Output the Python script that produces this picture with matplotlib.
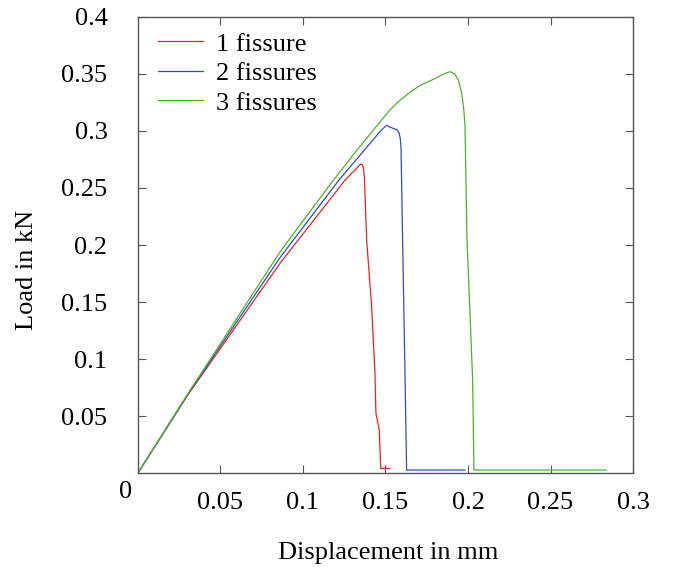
import numpy as np
import matplotlib.pyplot as plt

plt.rcParams['font.family'] = ['Liberation Serif', 'DejaVu Serif']

# 1 fissure
x1 = [0, 0.03, 0.06, 0.0861, 0.1164, 0.1255, 0.1320, 0.1345, 0.1356, 0.1365,
      0.1372, 0.1386, 0.1416, 0.1436, 0.1442, 0.1462, 0.1471, 0.1480, 0.1527]
y1 = [0, 0.068, 0.130, 0.184, 0.240, 0.257, 0.2665, 0.2705, 0.271, 0.2685,
      0.260, 0.204, 0.146, 0.088, 0.0526, 0.0377, 0.0041, 0.0041, 0.0041]
# 2 fissures
x2 = [0, 0.03, 0.0861, 0.1218, 0.1400, 0.1470, 0.1495, 0.1507, 0.1525, 0.1547,
      0.1570, 0.1582, 0.1590, 0.1594, 0.1618, 0.1628, 0.1982]
y2 = [0, 0.0685, 0.189, 0.257, 0.288, 0.300, 0.3035, 0.305, 0.3035, 0.3023,
      0.301, 0.2985, 0.293, 0.285, 0.088, 0.0026, 0.0026]
# 3 fissures
x3 = [0, 0.03, 0.0861, 0.1164, 0.1320, 0.1467, 0.1530, 0.1588, 0.1650, 0.1709,
      0.1800, 0.1860, 0.1891, 0.1920, 0.1941, 0.1962, 0.1975, 0.1982, 0.1994,
      0.2028, 0.2036, 0.2836]
y3 = [0, 0.069, 0.194, 0.253, 0.282, 0.308, 0.319, 0.327, 0.334, 0.340,
      0.346, 0.3505, 0.352, 0.350, 0.345, 0.333, 0.318, 0.304, 0.205,
      0.082, 0.0026, 0.0026]

labels = ['1 fissure', '2 fissures', '3 fissures']
colors = ['#f02020', '#3050b0', '#50b030']

xticks = [0.05, 0.1, 0.15, 0.2, 0.25, 0.3]
xtick_labels = ['0.05', '0.1', '0.15', '0.2', '0.25', '0.3']
yticks = [0.05, 0.1, 0.15, 0.2, 0.25, 0.3, 0.35, 0.4]
ytick_labels = ['0.05', '0.1', '0.15', '0.2', '0.25', '0.3', '0.35', '0.4']

fig = plt.figure(figsize=(6.74, 5.76), dpi=100)
ax = fig.add_axes([0.2047, 0.1788, 0.7345, 0.7917])

for xs, ys, lab, c in zip([x1, x2, x3], [y1, y2, y3], labels, colors):
    ax.plot(xs, ys, color=c, lw=0.9, label=lab)

ax.set_xlim(0, 0.3)
ax.set_ylim(0, 0.4)
ax.set_xticks(xticks)
ax.set_xticklabels(xtick_labels)
ax.set_yticks(yticks)
ax.set_yticklabels(ytick_labels)
ax.tick_params(direction='in', length=6, width=0.8, color='#555555',
               top=True, right=True, labelsize=19)
ax.tick_params(axis='x', pad=14)
ax.tick_params(axis='y', pad=22)
for s in ax.spines.values():
    s.set_color('#555555')
    s.set_linewidth(1.0)

ax.text(-0.0075, -0.0165, '0', fontsize=19, ha='center', va='center',
        transform=ax.transData, clip_on=False)

fig.text(388 / 674, 1 - 553 / 576, 'Displacement in mm', fontsize=19,
         ha='center', va='center')
fig.text(27 / 674, 1 - 270 / 576, 'Load in kN', fontsize=19,
         ha='center', va='center', rotation=90)

ax.legend(loc='upper left', frameon=False, fontsize=19, handlelength=1.7,
          handletextpad=0.5, labelspacing=0.23, borderaxespad=0,
          bbox_to_anchor=(0.02, 0.99))

fig.savefig('out.png', dpi=100)
